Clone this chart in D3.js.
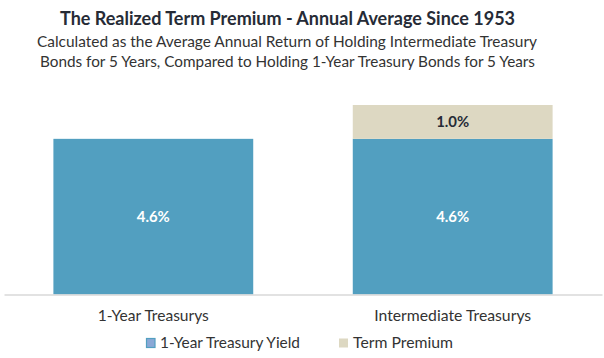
<!DOCTYPE html>
<html><head><meta charset="utf-8">
<script src="https://cdn.jsdelivr.net/npm/d3@7"></script>
<style>body{margin:0;background:#fff}svg{display:block}text{font-family:Lato,"Open Sans",sans-serif}</style>
</head><body>
<svg id="c" width="604" height="358"></svg>
<script>
const categories = ["1-Year Treasurys", "Intermediate Treasurys"];
const yieldValues = [4.6, 4.6];
const premiumValues = [0, 1.0];
const seriesNames = ["1-Year Treasury Yield", "Term Premium"];
const colors = ["#529fc0", "#ddd8c2"];

const svg = d3.select("#c");
const baseY = 294.5, topY = 105;
const x = d3.scaleBand().domain(categories).range([4, 602]).paddingInner(0.3325).paddingOuter(0.165);
const y = d3.scaleLinear().domain([0, 5.6]).range([baseY, topY]);

const data = categories.map((c, i) => ({c, y1: yieldValues[i], p: premiumValues[i]}));

svg.selectAll("rect.y1").data(data).join("rect")
  .attr("x", d => x(d.c)).attr("width", x.bandwidth())
  .attr("y", d => y(d.y1)).attr("height", d => y(0) - y(d.y1))
  .attr("fill", colors[0]);
svg.selectAll("rect.p").data(data.filter(d => d.p > 0)).join("rect")
  .attr("x", d => x(d.c)).attr("width", x.bandwidth())
  .attr("y", d => y(d.y1 + d.p)).attr("height", d => y(d.y1) - y(d.y1 + d.p))
  .attr("fill", colors[1]);

svg.selectAll("text.l1").data(data).join("text")
  .attr("x", d => x(d.c) + x.bandwidth()/2).attr("y", d => y(d.y1/2))
  .attr("dy", "0.35em").attr("text-anchor", "middle")
  .attr("fill", "#fff").attr("font-weight", "bold").attr("font-size", 14.5)
  .attr("textLength", 33).attr("lengthAdjust", "spacingAndGlyphs")
  .text(d => d.y1.toFixed(1) + "%");
svg.selectAll("text.l2").data(data.filter(d => d.p > 0)).join("text")
  .attr("x", d => x(d.c) + x.bandwidth()/2).attr("y", d => y(d.y1 + d.p/2))
  .attr("dy", "0.35em").attr("text-anchor", "middle")
  .attr("fill", "#262b36").attr("font-weight", "bold").attr("font-size", 14.5)
  .attr("textLength", 33).attr("lengthAdjust", "spacingAndGlyphs")
  .text(d => d.p.toFixed(1) + "%");

// axis
const ax = svg.append("g").attr("transform", `translate(0,${baseY})`)
  .call(d3.axisBottom(x).tickSize(0).tickPadding(0));
ax.select(".domain").attr("stroke", "#d9d9d9").attr("stroke-width", 1.5);
const catW = [111, 157];
ax.selectAll(".tick text").attr("font-family", "Lato, sans-serif").attr("font-size", 15)
  .attr("fill", "#333").attr("dy", null).attr("y", 321 - baseY)
  .attr("textLength", (d, i) => catW[i]).attr("lengthAdjust", "spacingAndGlyphs");

// title
function txt(str, x0, x1, yb, size, weight, fill) {
  svg.append("text").attr("x", x0).attr("y", yb)
    .attr("font-size", size).attr("font-weight", weight).attr("fill", fill)
    .attr("textLength", x1 - x0).attr("lengthAdjust", "spacingAndGlyphs")
    .text(str);
}
txt("The Realized Term Premium - Annual Average Since 1953", 60, 515, 25, 18.5, "bold", "#262b36");
txt("Calculated as the Average Annual Return of Holding Intermediate Treasury", 37, 537, 47, 15, "normal", "#333");
txt("Bonds for 5 Years, Compared to Holding 1-Year Treasury Bonds for 5 Years", 40, 535, 67, 15, "normal", "#333");

// legend
const legX = [146, 339];
const legTW = [140, 100];
const lg = svg.selectAll("g.leg").data(seriesNames).join("g")
  .attr("transform", (d, i) => `translate(${legX[i]},0)`);
lg.append("rect").attr("x", (d, i) => i === 0 ? 0.5 : 0).attr("y", 338.5).attr("width", (d, i) => i === 0 ? 8.5 : 9).attr("height", 9)
  .attr("fill", (d, i) => i === 0 ? "#8aa8d6" : colors[1])
  .attr("stroke", (d, i) => i === 0 ? colors[0] : "none").attr("stroke-width", 1.2);
lg.append("text").attr("x", 14).attr("y", 348).attr("font-size", 15).attr("fill", "#333")
  .attr("textLength", (d, i) => legTW[i]).attr("lengthAdjust", "spacingAndGlyphs")
  .text(d => d);
</script>
</body></html>
